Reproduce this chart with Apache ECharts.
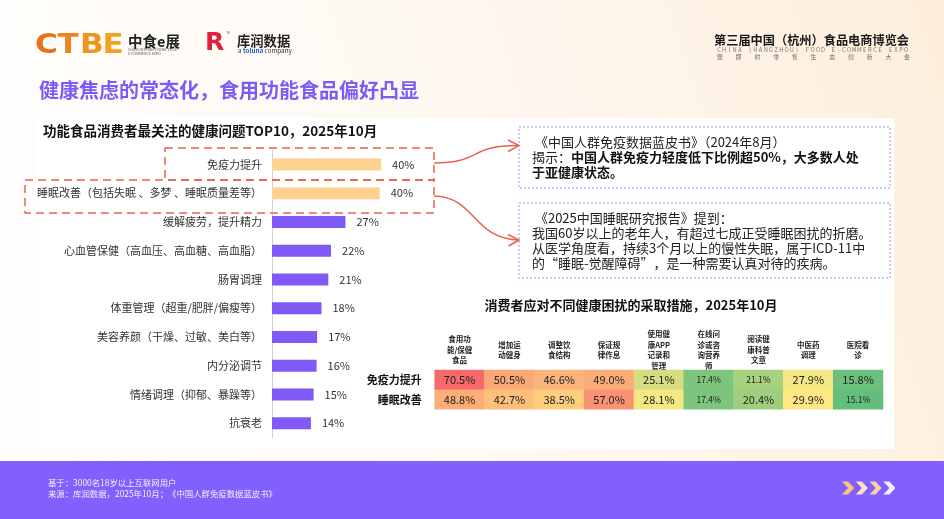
<!DOCTYPE html>
<html>
<head>
<meta charset="utf-8">
<script src="https://cdn.jsdelivr.net/npm/echarts@6/dist/echarts.min.js"></script>
<style>
  html, body { margin: 0; padding: 0; background: #fff; }
  #main { width: 944px; height: 519px; }
</style>
</head>
<body>
<div id="main"></div>
<script>
var FONT = '"Noto Sans CJK SC", "Noto Sans", sans-serif';

// 左图：功能食品消费者最关注的健康问题TOP10
var concerns = ['免疫力提升', '睡眠改善（包括失眠 、多梦 、睡眠质量差等）', '缓解疲劳，提升精力',
  '心血管保健（高血压、高血糖、高血脂）', '肠胃调理', '体重管理（超重/肥胖/偏瘦等）',
  '美容养颜（干燥、过敏、美白等）', '内分泌调节', '情绪调理（抑郁、暴躁等）', '抗衰老'];
var concernShare = [40.1, 39.6, 27.0, 21.7, 20.7, 18.2, 16.6, 16.4, 15.3, 14.3];
var highlightCount = 2;

// 右图：消费者应对不同健康困扰的采取措施
var measures = ['食用功\n能/保健\n食品', '增加运\n动健身', '调整饮\n食结构', '保证规\n律作息',
  '使用健\n康APP\n记录和\n管理', '在线问\n诊或咨\n询营养\n师', '阅读健\n康科普\n文章', '中医药\n调理', '医院看\n诊'];
var troubles = ['免疫力提升', '睡眠改善'];
var immunityPct = [70.5, 50.5, 46.6, 49.0, 25.1, 17.4, 21.1, 27.9, 15.8];
var sleepPct = [48.8, 42.7, 38.5, 57.0, 28.1, 17.4, 20.4, 29.9, 15.1];
var smallLabelValues = [17.4, 21.1, 15.1];

var heatData = [];
for (var i = 0; i < measures.length; i++) {
  heatData.push([i, 0, immunityPct[i]]);
  heatData.push([i, 1, sleepPct[i]]);
}

function txt(x, y, s, size, color, weight, align, extra) {
  var st = {
    text: s, x: x, y: y, fill: color, font: (weight || 'normal') + ' ' + size + 'px ' + FONT,
    align: align || 'left', verticalAlign: 'middle'
  };
  if (extra) { for (var k in extra) st[k] = extra[k]; }
  return { type: 'text', z: 10, style: st };
}

var graphics = [];
// 背景
graphics.push({
  type: 'rect', z: -10, shape: { x: 0, y: 0, width: 944, height: 519 },
  style: { fill: new echarts.graphic.LinearGradient(0, 0.6, 1, 0, [
    { offset: 0, color: '#fffefd' }, { offset: 0.5, color: '#fef8f1' }, { offset: 1, color: '#fdeedb' }]) }
});
graphics.push({ type: 'rect', z: -9, shape: { x: 35, y: 118, width: 859, height: 331 }, style: { fill: '#ffffff' } });
graphics.push({ type: 'rect', z: -9, shape: { x: 0, y: 461, width: 944, height: 58 }, style: { fill: '#8160fd' } });

// logo
var ctbeColors = ['#e8721c', '#ed841d', '#f1941e', '#f4a220'];
var ctbe = 'CTBE';
for (var j = 0; j < 4; j++) {
  graphics.push({
    type: 'text', z: 10, x: 35 + j * 22.5, y: 45.5, scaleX: 1.15,
    style: { text: ctbe[j], font: '900 27px "DejaVu Sans", sans-serif', verticalAlign: 'middle', fill: ctbeColors[j] }
  });
}
graphics.push(txt(128, 41, '中食e展', 14.5, '#222', 'bold'));
graphics.push(txt(128, 49.5, 'CHINA INTERNATIONAL FOOD', 3.6, '#555'));
graphics.push(txt(128, 54, 'E-COMMERCE EXPO', 3.6, '#555'));
graphics.push(txt(205, 43, 'R', 25, '#e3203b', 'bold', 'left', { font: 'bold 25px "DejaVu Sans", sans-serif' }));
graphics.push(txt(227, 34, '®', 6, '#e3203b'));
graphics.push(txt(237, 40.5, '库润数据', 13.3, '#222', 'bold'));
graphics.push({
  type: 'text', z: 10,
  style: {
    text: 'a {t|toluna} company', x: 238, y: 51, verticalAlign: 'middle', fill: '#333',
    font: '6.3px ' + FONT, rich: { t: { fill: '#1d5bd8', font: 'bold 6.3px ' + FONT } }
  }
});
graphics.push(txt(909, 40, '第三届中国（杭州）食品电商博览会', 12.2, '#1a1a1a', 'bold', 'right'));
var expo1 = 'CHINA (HANGZHOU) FOOD E-COMMERCE EXPO';
for (var a = 0; a < expo1.length; a++) {
  graphics.push(txt(719 + a * 5.2, 50, expo1[a], 5.8, '#777', 'normal', 'center'));
}
var expo2 = '暨即时零售生态创新大会';
for (var c = 0; c < expo2.length; c++) {
  graphics.push(txt(720 + c * 18.7, 57, expo2[c], 5.8, '#666', 'normal', 'center'));
}

// 标题
graphics.push(txt(39, 90, '健康焦虑的常态化，食用功能食品偏好凸显', 20, '#7b5cf7', 'bold'));
graphics.push(txt(43, 131, '功能食品消费者最关注的健康问题TOP10，2025年10月', 13.5, '#111', 'bold'));
graphics.push(txt(631, 305, '消费者应对不同健康困扰的采取措施，2025年10月', 13, '#111', 'bold', 'center'));

// 红色虚线框 + 连接线
var red = '#e9624b';
graphics.push({ type: 'rect', z: 9, shape: { x: 165, y: 148, width: 269, height: 32 }, style: { fill: 'none', stroke: red, lineWidth: 1.5, lineDash: [8, 5] } });
graphics.push({ type: 'rect', z: 9, shape: { x: 25, y: 180, width: 409, height: 33 }, style: { fill: 'none', stroke: red, lineWidth: 1.5, lineDash: [8, 5] } });
graphics.push({ type: 'bezierCurve', z: 9, shape: { x1: 434, y1: 163, cpx1: 482, cpy1: 163, cpx2: 468, cpy2: 145.5, x2: 518, y2: 145.5 }, style: { fill: 'none', stroke: red, lineWidth: 1.5 } });
graphics.push({ type: 'bezierCurve', z: 9, shape: { x1: 434, y1: 196, cpx1: 476, cpy1: 197, cpx2: 472, cpy2: 238, x2: 518, y2: 240 }, style: { fill: 'none', stroke: red, lineWidth: 1.5 } });
graphics.push({ type: 'polyline', z: 9, shape: { points: [[508, 140], [519, 145.6], [508, 151.5]] }, style: { fill: 'none', stroke: red, lineWidth: 1.5 } });
graphics.push({ type: 'polyline', z: 9, shape: { points: [[508, 234.5], [519, 240], [508.5, 246]] }, style: { fill: 'none', stroke: red, lineWidth: 1.5 } });

// 说明框
var lav = '#9d8cf4';
graphics.push({ type: 'rect', z: 9, shape: { x: 519, y: 127, width: 371, height: 61 }, style: { fill: 'none', stroke: lav, lineWidth: 1, lineDash: [2, 2] } });
graphics.push({ type: 'rect', z: 9, shape: { x: 519, y: 203, width: 371, height: 75 }, style: { fill: 'none', stroke: lav, lineWidth: 1, lineDash: [2, 2] } });
graphics.push(txt(532, 142, ' 《中国人群免疫数据蓝皮书》（2024年8月）', 13, '#222'));
graphics.push(txt(532, 157, '揭示：{b|中国人群免疫力轻度低下比例超50%，大多数人处}', 13, '#222', 'normal', 'left',
  { rich: { b: { font: 'bold 13px ' + FONT, fill: '#111' } } }));
graphics.push(txt(532, 172, '于亚健康状态。', 13, '#111', 'bold'));
graphics.push(txt(532, 218, ' 《2025中国睡眠研究报告》提到：', 13, '#222'));
graphics.push(txt(532, 233.5, '我国60岁以上的老年人，有超过七成正受睡眠困扰的折磨。', 13, '#222'));
graphics.push(txt(532, 248.5, '从医学角度看，持续3个月以上的慢性失眠，属于ICD-11中', 13, '#222'));
graphics.push(txt(532, 263.5, '的“睡眠-觉醒障碍”，是一种需要认真对待的疾病。', 13, '#222'));

// 页脚
graphics.push(txt(48, 482.5, '基于：3000名18岁以上互联网用户', 8.4, '#f4f0ff'));
graphics.push(txt(48, 493.5, '来源：库润数据，2025年10月；《中国人群免疫数据蓝皮书》', 8.4, '#f4f0ff'));
var chevronColors = ['#fcc37e', '#fde3c3', '#fcd2a4', '#f6efff'];
for (var k = 0; k < 4; k++) {
  var x0 = 842 + k * 13.8;
  graphics.push({
    type: 'polygon', z: 10,
    shape: { points: [[x0, 481.5], [x0 + 6, 481.5], [x0 + 12, 488], [x0 + 6, 494.5], [x0, 494.5], [x0 + 6, 488]] },
    style: { fill: chevronColors[k] }
  });
}

var chart = echarts.init(document.getElementById('main'));
chart.setOption({
  animation: false,
  textStyle: { fontFamily: FONT },
  graphic: { elements: graphics },
  grid: [
    { left: 272, top: 150, width: 272, height: 287.5 },
    { left: 434.7, top: 370, width: 448.3, height: 39.3 }
  ],
  xAxis: [
    { gridIndex: 0, type: 'value', min: 0, max: 100, show: false },
    {
      gridIndex: 1, type: 'category', data: measures, position: 'top',
      axisLine: { show: false }, axisTick: { show: false }, splitArea: { show: false },
      axisLabel: { interval: 0, fontSize: 7.5, fontWeight: 'bold', lineHeight: 10.5, color: '#222', margin: 20, verticalAlign: 'middle' }
    }
  ],
  yAxis: [
    {
      gridIndex: 0, type: 'category', data: concerns, inverse: true,
      axisLine: { show: true, lineStyle: { color: '#d2d2d2', width: 1 } },
      axisTick: { show: false }, splitLine: { show: false },
      axisLabel: { fontSize: 11, color: '#333', margin: 10 }
    },
    {
      gridIndex: 1, type: 'category', data: troubles, inverse: true,
      axisLine: { show: false }, axisTick: { show: false }, splitArea: { show: false },
      axisLabel: { fontSize: 11, fontWeight: 'bold', color: '#111', margin: 13 }
    }
  ],
  visualMap: {
    show: false, type: 'continuous', seriesIndex: 1, dimension: 2,
    min: 15.1, max: 70.5,
    inRange: { color: ['#63be7b', '#ffeb84', '#fdc07c', '#fa9473', '#f8696b'] }
  },
  series: [
    {
      type: 'bar', xAxisIndex: 0, yAxisIndex: 0, data: concernShare, barWidth: 12,
      itemStyle: {
        color: function (p) { return p.dataIndex < highlightCount ? '#fed190' : '#7f5af7'; }
      },
      label: {
        show: true, position: 'right', distance: 11, fontSize: 11, color: '#333',
        formatter: function (p) { return Math.round(p.value) + '%'; }
      },
      silent: true
    },
    {
      type: 'heatmap', xAxisIndex: 1, yAxisIndex: 1, data: heatData,
      itemStyle: { borderWidth: 0 },
      label: {
        show: true, color: '#222', fontSize: 11,
        formatter: function (p) {
          var v = p.value[2];
          var s = v.toFixed(1) + '%';
          return smallLabelValues.indexOf(v) >= 0 ? '{s|' + s + '}' : s;
        },
        rich: { s: { fontSize: 8.5, color: '#222' } }
      },
      emphasis: { disabled: true },
      silent: true
    }
  ]
});
</script>
</body>
</html>
